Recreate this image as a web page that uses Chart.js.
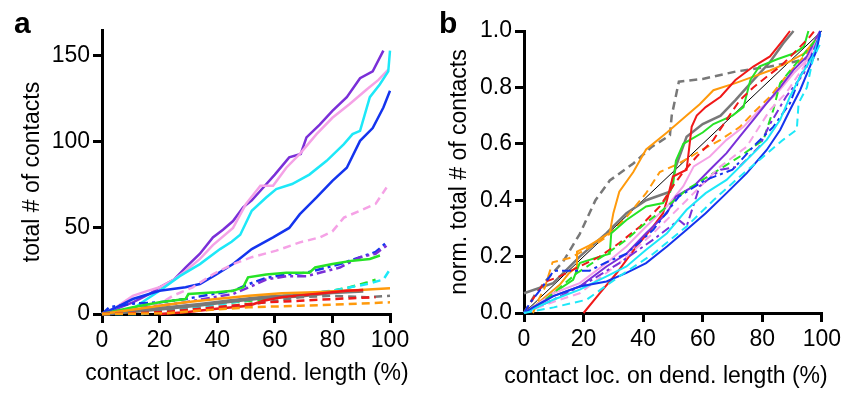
<!DOCTYPE html>
<html>
<head>
<meta charset="utf-8">
<script src="https://cdn.jsdelivr.net/npm/chart.js@4/dist/chart.umd.min.js"></script>
<style>
  body { margin: 0; background: #fff; }
  #wrap { position: relative; width: 845px; height: 395px; overflow: hidden; }
  canvas { position: absolute; top: 0; }
  .panel { position: absolute; font: bold 30px "Liberation Sans", Arial, sans-serif; line-height: 1; color: #000; }
  .xtitle { position: absolute; font: 23px "Liberation Sans", Arial, sans-serif; line-height: 1; color: #000; text-align: center; white-space: nowrap; }
</style>
</head>
<body>
<div id="wrap">
  <canvas id="chartA" width="420" height="395" style="left:0"></canvas>
  <canvas id="chartB" width="425" height="395" style="left:420px"></canvas>
  <div class="panel" style="left:14px; top:8px">a</div>
  <div class="panel" style="left:439px; top:8px">b</div>
  <div class="xtitle" id="xTitleA" style="left:47px; width:400px; top:361px"></div>
  <div class="xtitle" id="xTitleB" style="left:466px; width:400px; top:364px"></div>
</div>
<script>
// axes
const xTicks = [0, 20, 40, 60, 80, 100];
const yTicksA = [0, 50, 100, 150];
const yTicksB = [0, 0.2, 0.4, 0.6, 0.8, 1.0];
const xTitle = 'contact loc. on dend. length (%)';
const yTitleA = 'total # of contacts';
const yTitleB = 'norm. total # of contacts';

// panel a: total contacts vs. location [x %, count]
const aPurple = [[0,0],[5,3],[10.7,6.8],[16.5,11.6],[20,15.5],[25,20],[29,27],[34,35],[38.5,44.5],[42,49],[45.5,54],[49,62],[52,66],[55,71.6],[60,81],[65,91],[69,93],[71,102.6],[75.6,110],[80,118],[85,126],[89.6,137],[94,141],[97.7,153]];
const aPink = [[0,0],[5,4],[10.7,10.6],[15,13],[20,15.5],[25,20],[29,25],[34,32],[38.5,40],[45.5,50],[50,64],[55,74.5],[59.4,74.5],[64,85],[68.7,93],[74.5,104.5],[80,114],[86,122],[92,130.6],[96,136],[99.4,142]];
const aCyan = [[0,0],[5,1],[10.7,3],[15,8],[20,13.5],[27,22],[34,29],[41,37.7],[45,42],[48,46],[52,60],[57,67.7],[60.5,72.6],[66,75.5],[72,81],[78,89],[84,98.7],[87,104.5],[89.6,106.4],[93,126],[96.5,133.5],[99.4,141],[100,153]];
const aBlue = [[0,0],[5,3.9],[10.7,8.7],[20,13.5],[29,15.5],[34,17.4],[39.7,23],[45.5,29],[52,37.7],[59.4,44.5],[65,50],[68.7,58],[74.5,67.7],[80,77.4],[85,85],[89.6,100.6],[94,108],[97.7,120],[100,129.7]];
const aPinkDash = [[0,0],[10,2],[20,5.8],[24.6,10.6],[31.5,15.5],[38.5,23],[45.5,29],[52,33],[60.5,36.8],[68.7,41.6],[75.6,44.5],[80,48],[84,56],[89.6,60],[95,64],[98.8,73.5]];
const aBlueDash = [[0,0],[2.6,4],[10.7,6],[20,6.8],[29,8.7],[38.5,11.6],[45.5,13.5],[51,17.4],[57,21],[64,23],[71,24],[78,27],[82.6,29],[89.6,33],[95,36],[98.8,41.6]];
const aPurpleDash = [[0,0],[10.7,3],[20,4.8],[29,6.8],[38.5,9.7],[45.5,11.6],[51,15.5],[57,20],[64,22],[71,22],[78,25],[82.6,27],[89.6,33],[95,35],[98.8,39.7]];
const aGreen = [[0,0],[10.7,3.9],[20,6.8],[29,8.7],[30,11.6],[39.7,12.6],[45.5,13.5],[49,15.5],[50.7,21.3],[57,23],[64,24],[72,24],[74,27],[80,29],[87,31],[93,32],[96.5,34]];
const aGreenDash = [[0,0],[20,3],[34,4.8],[45.5,6.8],[57,8.7],[68.7,10.6],[80,13.5],[86,15.5],[92,18.4],[95,20]];
const aCyanDash = [[0,0],[14,0],[20,1],[34,4],[45.5,6.8],[57,9.7],[68.7,11.6],[80,13.5],[92,17.4],[97.7,20],[100,26]];
const aOrange = [[0,0],[20,4.8],[29,6.8],[39.7,8.7],[51,10.6],[62.4,12],[74,12.6],[85,13.5],[100,15]];
const aGray = [[0,0],[20,3],[34,5.4],[45.5,7.7],[57,9.7],[68.7,10.6],[80,12.6],[90.7,13.5]];
const aRed = [[20,0],[29,1],[39.7,3],[51,4.8],[56,7.7],[62.4,9.7],[74,11.6],[85,13.5],[90.7,14]];
const aGrayDash = [[0,0],[34,3],[57,6.8],[68.7,9.7],[80,10.6],[92,9.7],[100,10.6]];
const aRedDash = [[0,0],[22,1],[34,3],[45.5,4.8],[57,6.8],[68.7,7.7],[80,8.7],[95,9.7]];
const aOrangeDash = [[0,0],[22,0.4],[34,2],[51,3.9],[68.7,4.8],[80,5.4],[100,6.8]];

// panel b: normalized totals [x %, fraction]
const bDiag = [[0,0],[100,1]];
const bGrayDash = [[0,0],[4,0.07],[8.6,0.13],[13,0.18],[18.7,0.28],[24,0.40],[28.8,0.47],[36.7,0.53],[43,0.59],[49,0.63],[49.6,0.70],[52,0.82],[60,0.83],[71,0.856],[82.6,0.874],[90.5,0.89],[94,0.90],[99,0.90]];
const bGray = [[0,0.07],[9.8,0.106],[13,0.14],[18.7,0.2],[27.7,0.283],[34.4,0.354],[41,0.40],[49,0.43],[51,0.52],[54.6,0.625],[60,0.67],[66,0.70],[71,0.755],[77,0.826],[82.6,0.89],[87,0.956],[90.5,1.0]];
const bOrange = [[0,0],[3,0.02],[7.5,0.06],[12,0.1],[15,0.14],[17.8,0.165],[17.8,0.218],[22,0.24],[28.8,0.284],[30,0.354],[32,0.43],[36.7,0.50],[41,0.58],[48,0.64],[54.6,0.70],[59,0.74],[63.6,0.79],[71,0.815],[77,0.838],[82.6,0.86],[88,0.885],[94,0.92],[98,0.97],[99.5,0.99]];
const bOrangeDash = [[3,0],[5,0.05],[7,0.09],[9.6,0.18],[15.3,0.195],[20.8,0.225],[25,0.25],[27.7,0.27],[34.4,0.34],[41,0.425],[45.6,0.50],[52,0.53],[60,0.58],[66,0.614],[72.5,0.66],[77,0.71],[82.6,0.767],[88,0.84],[94,0.91],[99,0.98]];
const bRed = [[20,0],[25.4,0.07],[31,0.14],[37.8,0.236],[43.4,0.307],[46.7,0.354],[48,0.40],[50,0.484],[54.6,0.508],[56.3,0.66],[58,0.70],[61,0.73],[66,0.767],[71,0.826],[77,0.874],[82.6,0.91],[87,0.968],[89.3,1.0]];
const bRedDash = [[0,0],[3,0.05],[7,0.11],[12,0.13],[18.7,0.165],[25.4,0.2],[32,0.248],[39,0.307],[45.6,0.378],[50,0.45],[53.5,0.5],[58,0.555],[63.6,0.614],[68,0.685],[72.5,0.755],[77,0.80],[81.5,0.838],[86,0.874],[90.5,0.92],[96,0.98],[97.5,1.0]];
const bGreen = [[0,0],[3,0.02],[9.8,0.07],[16.5,0.118],[18.7,0.177],[25.4,0.2],[28.8,0.21],[29.3,0.283],[34.4,0.33],[41,0.378],[46.7,0.39],[50,0.45],[51,0.54],[53.5,0.60],[60,0.64],[63.6,0.67],[70,0.70],[73.7,0.73],[76,0.826],[79,0.874],[85,0.90],[90.5,0.92],[94,0.945],[95.5,1.0]];
const bGreenDash = [[0,0],[4,0.02],[9.8,0.07],[17.6,0.14],[27.7,0.21],[34.4,0.26],[41,0.32],[46.7,0.366],[54.6,0.437],[63.6,0.496],[72.5,0.555],[80.4,0.614],[82.6,0.685],[83.7,0.72],[86,0.815],[90.5,0.874],[97,0.956],[99.5,0.99]];
const bPurple = [[0,0],[5,0.03],[9.8,0.06],[18.7,0.094],[27.7,0.165],[34.4,0.21],[41,0.283],[48,0.354],[51,0.413],[57,0.45],[62.4,0.508],[68,0.567],[72.5,0.626],[77,0.685],[81.5,0.744],[86,0.80],[90.5,0.862],[95,0.91],[99.4,1.0]];
const bPink = [[0,0],[5,0.035],[9.8,0.07],[18.7,0.106],[27.7,0.177],[34.4,0.236],[41,0.307],[48,0.378],[53.5,0.45],[57,0.52],[62.4,0.555],[68,0.614],[73.7,0.66],[79,0.72],[85,0.78],[90.5,0.85],[95,0.897],[99.5,0.99]];
const bPinkDash = [[0,0],[10,0.04],[18.7,0.07],[32,0.177],[43.4,0.283],[54.6,0.40],[66,0.52],[74.8,0.59],[82.6,0.72],[88,0.78],[94,0.874],[99.5,0.99]];
const bBlue = [[0,0],[3,0.02],[9.8,0.06],[18.7,0.094],[27.7,0.112],[34.4,0.142],[41,0.177],[48,0.236],[54.6,0.295],[61,0.354],[68,0.425],[74.8,0.496],[81.5,0.578],[86,0.649],[89.3,0.72],[92.7,0.79],[96,0.874],[98.3,0.933],[99.5,1.0]];
const bCyan = [[0,0],[9.8,0.047],[18.7,0.083],[27.7,0.13],[34.4,0.165],[41,0.224],[48,0.283],[54.6,0.366],[61,0.425],[68,0.472],[74.8,0.543],[81.5,0.614],[86,0.685],[89.3,0.767],[92.7,0.838],[97,0.91],[99.5,0.99]];
const bCyanDash = [[0,0],[10,0.02],[21,0.047],[32,0.13],[43.4,0.21],[54.6,0.307],[63.6,0.40],[72.5,0.484],[80.4,0.555],[87,0.614],[91.6,0.65],[92.2,0.744],[95,0.80],[97,0.90],[99.5,0.956]];
const bBlueDash = [[0,0],[2,0.035],[6,0.09],[10,0.15],[22,0.15],[27.7,0.18],[34.4,0.21],[43.4,0.295],[52,0.413],[61,0.472],[70,0.508],[77,0.59],[83.7,0.66],[89.3,0.744],[92.7,0.838],[97,0.92],[99.5,0.99]];
const bPurpleDash = [[0,0],[9.8,0.047],[21,0.106],[32,0.177],[43.4,0.26],[52,0.33],[54.6,0.307],[59,0.45],[66,0.508],[72.5,0.52],[79,0.59],[82.6,0.67],[88,0.767],[94,0.85],[99.5,0.99]];

const PURPLE = '#7a2fd8', PINK = '#f5a2e6', CYAN = '#1de8f8', BLUE = '#1434ee',
      GREEN = '#26e326', ORANGE = '#ff9a0c', RED = '#f01818', GRAY = '#787878';
const DASH = [8, 5];
const DASHDOT = [9, 4, 3, 4];

// x titles as html, chart.js would squeeze them to the axis width
document.getElementById('xTitleA').textContent = xTitle;
document.getElementById('xTitleB').textContent = xTitle;

function series(points, color, width, dash) {
  return {
    data: points.map(p => ({ x: p[0], y: p[1] })),
    borderColor: color,
    borderWidth: width,
    borderDash: dash || [],
    pointRadius: 0,
    tension: 0,
    fill: false,
    clip: false
  };
}

const FONT = '"Liberation Sans", Arial, sans-serif';

function makeOptions(yMax, yTicks, yTitle, decimals, pad, yTitlePad) {
  return {
    responsive: false,
    animation: false,
    events: [],
    layout: { padding: pad },
    plugins: { legend: { display: false }, tooltip: { enabled: false } },
    scales: {
      x: {
        type: 'linear', min: 0, max: 100,
        afterBuildTicks: s => { s.ticks = xTicks.map(v => ({ value: v })); },
        afterFit: s => { s.height = 395 - pad.bottomAxis; },
        border: { display: true, color: '#000', width: 3 },
        grid: { drawOnChartArea: false, drawTicks: true, tickLength: 9, color: '#000', lineWidth: 3 },
        ticks: { color: '#000', padding: 4, font: { family: FONT, size: 23 }, maxRotation: 0 }
      },
      y: {
        type: 'linear', min: 0, max: yMax,
        afterBuildTicks: s => { s.ticks = yTicks.map(v => ({ value: v })); },
        afterFit: s => { s.width = pad.leftAxis; },
        border: { display: true, color: '#000', width: 3 },
        grid: { drawOnChartArea: false, drawTicks: true, tickLength: 9, color: '#000', lineWidth: 3 },
        ticks: { color: '#000', padding: 3, font: { family: FONT, size: 23 },
                 callback: v => v.toFixed(decimals) },
        title: { display: true, text: yTitle, color: '#000', font: { family: FONT, size: 23 }, padding: { top: yTitlePad, bottom: 0 } }
      }
    }
  };
}

const padA = { left: 0, top: 30, right: 30, bottom: 0, leftAxis: 102, bottomAxis: 314 };
new Chart(document.getElementById('chartA'), {
  type: 'line',
  data: {
    datasets: [
      series(aOrangeDash, ORANGE, 2.5, DASH),
      series(aRedDash, RED, 2.5, DASH),
      series(aGrayDash, GRAY, 2.5, DASH),
      series(aRed, RED, 2.5),
      series(aOrange, ORANGE, 2.5),
      series(aGray, GRAY, 4),
      series(aCyanDash, CYAN, 2.5, DASH),
      series(aGreenDash, GREEN, 2.5, DASH),
      series(aGreen, GREEN, 2.5),
      series(aPurpleDash, PURPLE, 2.5, DASHDOT),
      series(aBlueDash, BLUE, 2.5, DASHDOT),
      series(aPinkDash, PINK, 2.5, DASH),
      series(aBlue, BLUE, 2.5),
      series(aCyan, CYAN, 2.5),
      series(aPink, PINK, 2.5),
      series(aPurple, PURPLE, 2.5)
    ]
  },
  options: makeOptions(165, yTicksA, yTitleA, 0, padA, 19)
});

const padB = { left: 0, top: 31, right: 23, bottom: 0, leftAxis: 104, bottomAxis: 313 };
new Chart(document.getElementById('chartB'), {
  type: 'line',
  data: {
    datasets: [
      series(bCyanDash, CYAN, 2, DASH),
      series(bBlue, BLUE, 2),
      series(bCyan, CYAN, 2),
      series(bBlueDash, BLUE, 2, DASHDOT),
      series(bPurpleDash, PURPLE, 2, DASHDOT),
      series(bPinkDash, PINK, 2, DASH),
      series(bGreenDash, GREEN, 2, DASH),
      series(bRedDash, RED, 2, DASH),
      series(bPurple, PURPLE, 2),
      series(bPink, PINK, 2),
      series(bRed, RED, 2),
      series(bGreen, GREEN, 2),
      series(bOrangeDash, ORANGE, 2, DASH),
      series(bOrange, ORANGE, 2),
      series(bGray, GRAY, 2.5),
      series(bGrayDash, GRAY, 2.5, DASH),
      series(bDiag, '#000', 1)
    ]
  },
  options: makeOptions(1, yTicksB, yTitleB, 1, padB, 26)
});
</script>
</body>
</html>
